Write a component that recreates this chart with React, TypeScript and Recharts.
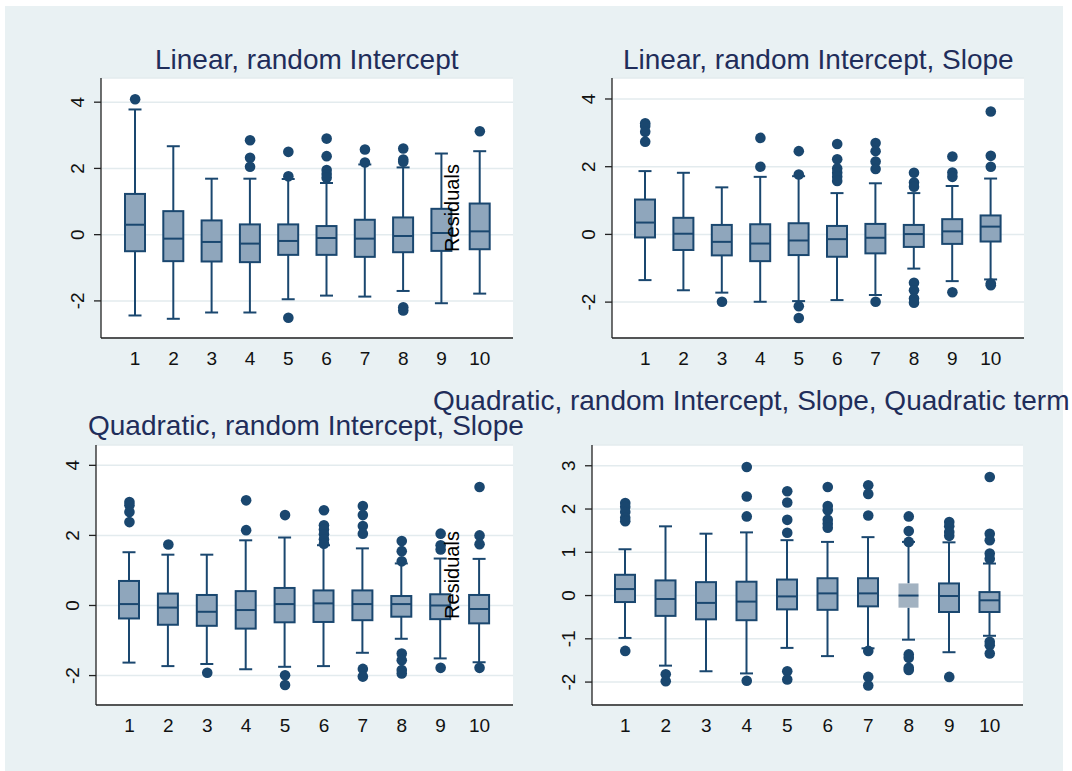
import { ComposedChart, Bar, Line, XAxis, YAxis, CartesianGrid } from 'recharts'

const GROUPS = ['1', '2', '3', '4', '5', '6', '7', '8', '9', '10']

// Linear, random Intercept
const LI_LOW = [-2.44, -2.54, -2.35, -2.35, -1.95, -1.84, -1.87, -1.7, -2.07, -1.78]
const LI_Q1 = [-0.5, -0.8, -0.81, -0.83, -0.61, -0.61, -0.67, -0.53, -0.49, -0.44]
const LI_MED = [0.3, -0.12, -0.22, -0.27, -0.19, -0.1, -0.12, -0.04, 0.05, 0.1]
const LI_Q3 = [1.23, 0.71, 0.43, 0.31, 0.31, 0.26, 0.45, 0.52, 0.78, 0.94]
const LI_HIGH = [3.78, 2.67, 1.69, 1.69, 1.68, 1.56, 2.12, 2.03, 2.45, 2.52]
const LI_OUT = [
  [4.09], [], [], [2.85, 2.32, 2.05], [2.5, 1.76, -2.51],
  [2.9, 2.37, 1.95, 1.83, 1.72], [2.57, 2.18], [2.6, 2.27, 2.2, -2.19, -2.29], [], [3.12],
]

// Linear, random Intercept, Slope
const LRS_LOW = [-1.35, -1.65, -1.72, -1.99, -1.97, -1.94, -1.79, -1.01, -1.38, -1.33]
const LRS_Q1 = [-0.09, -0.46, -0.62, -0.79, -0.61, -0.66, -0.56, -0.37, -0.28, -0.21]
const LRS_MED = [0.35, 0.02, -0.22, -0.27, -0.18, -0.14, -0.1, 0.01, 0.09, 0.23]
const LRS_Q3 = [1.03, 0.49, 0.28, 0.3, 0.33, 0.25, 0.31, 0.28, 0.45, 0.56]
const LRS_HIGH = [1.87, 1.82, 1.39, 1.7, 1.72, 1.22, 1.51, 1.22, 1.43, 1.65]
const LRS_OUT = [
  [3.28, 3.2, 3.03, 2.74], [], [-1.99], [2.85, 2.0], [2.46, 1.77, -2.12, -2.47],
  [2.67, 2.22, 1.95, 1.82, 1.7, 1.58], [2.7, 2.46, 2.15, 1.93, -1.99],
  [1.82, 1.53, 1.41, -1.43, -1.65, -1.89, -2.02], [2.3, 1.83, 1.7, -1.71], [3.63, 2.32, 2.0, -1.45, -1.5],
]

// Quadratic, random Intercept, Slope
const QRS_LOW = [-1.63, -1.73, -1.67, -1.82, -1.75, -1.73, -1.35, -0.95, -1.51, -1.62]
const QRS_Q1 = [-0.37, -0.55, -0.58, -0.66, -0.48, -0.47, -0.42, -0.32, -0.39, -0.51]
const QRS_MED = [0.04, -0.06, -0.18, -0.13, 0.04, 0.06, 0.04, 0.04, 0.0, -0.1]
const QRS_Q3 = [0.7, 0.34, 0.3, 0.41, 0.5, 0.43, 0.43, 0.27, 0.32, 0.3]
const QRS_HIGH = [1.52, 1.45, 1.45, 1.86, 1.94, 1.72, 1.63, 1.2, 1.34, 1.33]
const QRS_OUT = [
  [2.95, 2.86, 2.67, 2.38], [1.74], [-1.92], [3.0, 2.15], [2.58, -1.99, -2.27],
  [2.72, 2.29, 2.17, 2.03, 1.89, 1.76], [2.84, 2.58, 2.27, 2.05, -1.81, -2.03],
  [1.84, 1.55, 1.26, -1.37, -1.56, -1.84, -1.94], [2.05, 1.72, 1.6, -1.78], [3.38, 2.0, 1.75, -1.78],
]

// Quadratic, random Intercept, Slope, Quadratic term
const QRSQ_LOW = [-0.98, -1.62, -1.75, -1.8, -1.21, -1.4, -1.22, -1.02, -1.31, -0.93]
const QRSQ_Q1 = [-0.15, -0.47, -0.55, -0.57, -0.32, -0.33, -0.25, -0.28, -0.38, -0.38]
const QRSQ_MED = [0.15, -0.08, -0.17, -0.14, -0.02, 0.05, 0.05, 0.0, -0.01, -0.11]
const QRSQ_Q3 = [0.48, 0.35, 0.31, 0.32, 0.37, 0.4, 0.4, 0.28, 0.28, 0.08]
const QRSQ_HIGH = [1.07, 1.6, 1.43, 1.46, 1.28, 1.24, 1.35, 1.24, 1.23, 0.74]
const QRSQ_OUT = [
  [2.14, 2.05, 1.93, 1.8, 1.72, -1.28], [-1.82, -1.98], [], [2.97, 2.29, 1.83, -1.97],
  [2.41, 2.15, 1.75, 1.45, -1.75, -1.94], [2.51, 2.07, 1.97, 1.75, 1.66, 1.57],
  [2.55, 2.35, 1.85, -1.28, -1.88, -2.08], [1.83, 1.49, 1.24, -1.36, -1.44, -1.67, -1.72],
  [1.7, 1.6, 1.47, 1.38, -1.88], [2.74, 1.43, 1.28, 0.97, 0.85, -1.07, -1.15, -1.34],
]

const NAVY = '#1a476f'
const BOX_FILL = '#8fa6bc'
const HIGHLIGHT_FILL = '#a2b2c1'
const BG = '#e9f1f3'
const GRID = '#e3ebee'
const TITLE_COLOR = '#1f2d5a'
const FONT = '"Liberation Sans", Arial, Helvetica, sans-serif'
const MAX_OUT = 8

function buildRows(low: number[], q1: number[], med: number[], q3: number[], high: number[], out: number[][]) {
  return GROUPS.map((g, i) => {
    const row: any = { g, range: [low[i], high[i]], q1: q1[i], med: med[i], q3: q3[i] }
    for (let k = 0; k < MAX_OUT; k++) row['o' + k] = out[i][k] ?? null
    return row
  })
}

function makeBoxShape(highlight?: string) {
  return (props: any) => {
    const { x, y, width, height, payload } = props
    const [lo, hi] = payload.range
    const top = Math.min(y, y + height)
    const k = Math.abs(height) / (hi - lo)
    const py = (v: number) => top + (hi - v) * k
    const cx = x + width / 2
    const cap = 6.5
    const hl = payload.g === highlight
    return (
      <g>
        <line x1={cx} x2={cx} y1={py(hi)} y2={py(payload.q3)} stroke={NAVY} strokeWidth={2} />
        <line x1={cx} x2={cx} y1={py(payload.q1)} y2={py(lo)} stroke={NAVY} strokeWidth={2} />
        <line x1={cx - cap} x2={cx + cap} y1={py(hi)} y2={py(hi)} stroke={NAVY} strokeWidth={2} />
        <line x1={cx - cap} x2={cx + cap} y1={py(lo)} y2={py(lo)} stroke={NAVY} strokeWidth={2} />
        <rect
          x={x}
          y={py(payload.q3)}
          width={width}
          height={py(payload.q1) - py(payload.q3)}
          fill={hl ? HIGHLIGHT_FILL : BOX_FILL}
          stroke={hl ? 'none' : NAVY}
          strokeWidth={2}
        />
        <line x1={x} x2={x + width} y1={py(payload.med)} y2={py(payload.med)} stroke={NAVY} strokeWidth={2} />
      </g>
    )
  }
}

const YTick = ({ x, y, payload }: any) => (
  <text x={x} y={y} transform={`rotate(-90 ${x} ${y})`} textAnchor="middle" fontSize={19} fill="#111" fontFamily={FONT}>
    {payload.value}
  </text>
)

const XTick = ({ x, y, payload }: any) => (
  <text x={x} y={y + 27} textAnchor="middle" fontSize={19} fill="#111" fontFamily={FONT}>
    {payload.value}
  </text>
)

interface PanelProps {
  rows: any[]
  left: number
  top: number
  w: number
  h: number
  domain: [number, number]
  ticks: number[]
  pad: [number, number]
  highlight?: string
}

function Panel({ rows, left, top, w, h, domain, ticks, pad, highlight }: PanelProps) {
  const axisW = 60
  return (
    <div style={{ position: 'absolute', left: left - axisW, top: top - 10 }}>
      <ComposedChart width={axisW + w + 10} height={h + 50} data={rows} margin={{ top: 10, right: 10, bottom: 0, left: 0 }}>
        <CartesianGrid vertical={false} stroke={GRID} strokeWidth={1.5} fill="#ffffff" />
        <XAxis
          dataKey="g"
          height={40}
          padding={{ left: pad[0], right: pad[1] }}
          tickLine={false}
          tickSize={0}
          tickMargin={0}
          tick={<XTick />}
          stroke="#222"
          strokeWidth={1.3}
          interval={0}
        />
        <YAxis
          type="number"
          width={axisW}
          domain={domain}
          ticks={ticks}
          tickSize={7}
          tickMargin={10}
          tick={<YTick />}
          stroke="#222"
          strokeWidth={1.3}
          allowDataOverflow
        />
        <Bar dataKey="range" barSize={20} shape={makeBoxShape(highlight)} isAnimationActive={false} />
        {Array.from({ length: MAX_OUT }, (_, k) => (
          <Line
            key={k}
            dataKey={'o' + k}
            stroke="none"
            dot={{ r: 5.3, fill: NAVY, stroke: NAVY, strokeWidth: 0 }}
            activeDot={false}
            isAnimationActive={false}
          />
        ))}
      </ComposedChart>
    </div>
  )
}

export default function App() {
  const titleStyle = { fontSize: 28, fill: TITLE_COLOR, fontFamily: FONT }
  return (
    <div style={{ position: 'absolute', left: 0, top: 0, width: 1072, height: 771, background: '#fff', overflow: 'hidden' }}>
      <div style={{ position: 'absolute', left: 5, top: 6, width: 1058, height: 765, background: BG }} />
      <Panel
        rows={buildRows(LI_LOW, LI_Q1, LI_MED, LI_Q3, LI_HIGH, LI_OUT)}
        left={101} top={78} w={412} h={260}
        domain={[-3.12, 4.73]} ticks={[-2, 0, 2, 4]} pad={[15, 14]}
      />
      <Panel
        rows={buildRows(LRS_LOW, LRS_Q1, LRS_MED, LRS_Q3, LRS_HIGH, LRS_OUT)}
        left={612} top={78} w={412} h={260}
        domain={[-3.06, 4.62]} ticks={[-2, 0, 2, 4]} pad={[14, 14]}
      />
      <Panel
        rows={buildRows(QRS_LOW, QRS_Q1, QRS_MED, QRS_Q3, QRS_HIGH, QRS_OUT)}
        left={96} top={445} w={417} h={260}
        domain={[-2.84, 4.58]} ticks={[-2, 0, 2, 4]} pad={[14, 14]}
      />
      <Panel
        rows={buildRows(QRSQ_LOW, QRSQ_Q1, QRSQ_MED, QRSQ_Q3, QRSQ_HIGH, QRSQ_OUT)}
        left={592} top={445} w={431} h={260}
        domain={[-2.53, 3.48]} ticks={[-2, -1, 0, 1, 2, 3]} pad={[13, 13]}
        highlight="8"
      />
      <svg width={1072} height={771} style={{ position: 'absolute', left: 0, top: 0, pointerEvents: 'none', overflow: 'visible' }}>
        <text x={155} y={69} {...titleStyle}>Linear, random Intercept</text>
        <text x={623} y={69} {...titleStyle}>Linear, random Intercept, Slope</text>
        <text x={433} y={410} {...titleStyle}>Quadratic, random Intercept, Slope, Quadratic term</text>
        <text x={88} y={435} {...titleStyle}>Quadratic, random Intercept, Slope</text>
        <text x={459} y={208} transform="rotate(-90 459 208)" textAnchor="middle" fontSize={20} fill="#000" fontFamily={FONT}>Residuals</text>
        <text x={459} y={575} transform="rotate(-90 459 575)" textAnchor="middle" fontSize={20} fill="#000" fontFamily={FONT}>Residuals</text>
      </svg>
    </div>
  )
}
